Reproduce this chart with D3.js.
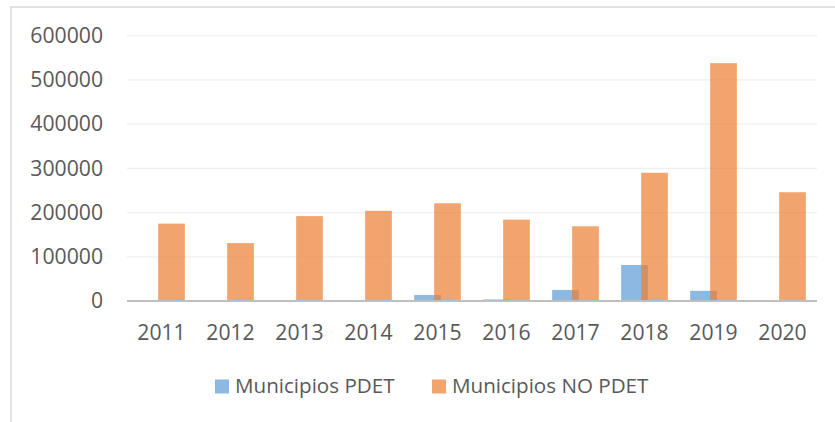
<!DOCTYPE html>
<html>
<head>
<meta charset="utf-8">
<script src="https://cdn.jsdelivr.net/npm/d3@7"></script>
<style>
html,body{margin:0;padding:0;background:#fff;}
svg{display:block;}
text{font-family:"Open Sans",sans-serif;fill:#595959;}
</style>
</head>
<body>
<svg id="chart" width="835" height="422"></svg>
<script>
const years = ["2011","2012","2013","2014","2015","2016","2017","2018","2019","2020"];
const seriesNames = ["Municipios PDET","Municipios NO PDET"];
const pdet = [0, 0, 0, 0, 13500, 3500, 25000, 81500, 23000, 0];
const noPdet = [175000, 131000, 192000, 204000, 221000, 184000, 169000, 290000, 538000, 246000];
const yTicks = [0, 100000, 200000, 300000, 400000, 500000, 600000];
const colors = ["#5B9BD5", "#ED7D31"];

(function(){
const svg = d3.select("#chart");
const W = 835, H = 422;
const pLeft = 127, pRight = 817, pTop = 35.7, pBottom = 301;

// outer border
svg.append("path")
  .attr("d", `M11,${H} L11,7 L${W},7`)
  .attr("fill", "none").attr("stroke", "#D9D9D9").attr("stroke-width", 1.5);

const x = d3.scaleBand().domain(years).range([pLeft, pRight]).padding(0);
const y = d3.scaleLinear().domain([0, 600000]).range([pBottom, pTop]);
const bw = x.bandwidth() * 0.387;
const off = d3.scalePoint().domain(seriesNames).range([-x.bandwidth()*0.145, x.bandwidth()*0.145]);

// gridlines
svg.append("g").selectAll("line").data(yTicks.filter(d => d > 0)).join("line")
  .attr("x1", pLeft).attr("x2", pRight)
  .attr("y1", d => y(d)).attr("y2", d => y(d))
  .attr("stroke", "#EFEFEF").attr("stroke-width", 1.3);

// y axis labels
const yAxis = d3.axisLeft(y).tickValues(yTicks).tickSize(0).tickPadding(0).tickFormat(d3.format("d"));
const ga = svg.append("g").attr("transform", `translate(103,0)`).call(yAxis);
ga.select(".domain").remove();
ga.selectAll("text").attr("font-size", 21.2).attr("fill", "#595959").style("font-family", '"Open Sans",sans-serif');

// bars
const data = [pdet, noPdet];
data.forEach((vals, si) => {
  svg.append("g").selectAll("rect").data(vals.map((v, i) => ({year: years[i], v}))).join("rect")
    .attr("x", d => x(d.year) + x.bandwidth()/2 + off(seriesNames[si]) - bw/2)
    .attr("width", bw)
    .attr("y", d => y(d.v))
    .attr("height", d => y(0) - y(d.v))
    .attr("fill", colors[si]).attr("fill-opacity", 0.7);
});

// baseline
svg.append("line").attr("x1", pLeft).attr("x2", pRight).attr("y1", y(0)).attr("y2", y(0))
  .attr("stroke", "#BFBFBF").attr("stroke-width", 2.2);

// x axis labels
const xAxis = d3.axisBottom(x).tickSize(0).tickPadding(0);
const gx = svg.append("g").attr("transform", `translate(0,${pBottom + 24})`).call(xAxis);
gx.select(".domain").remove();
gx.selectAll("text").attr("font-size", 21.2).attr("fill", "#595959").attr("dy", "0.71em").style("font-family", '"Open Sans",sans-serif');

// legend
const legendX = [215, 432];
const lg = svg.append("g");
seriesNames.forEach((name, i) => {
  lg.append("rect").attr("x", legendX[i]).attr("y", 379.5).attr("width", 14).attr("height", 14)
    .attr("fill", colors[i]).attr("fill-opacity", 0.7);
  lg.append("text").attr("x", legendX[i] + 20).attr("y", 393.3).attr("font-size", 20.6).text(name);
});
})();
</script>
</body>
</html>
